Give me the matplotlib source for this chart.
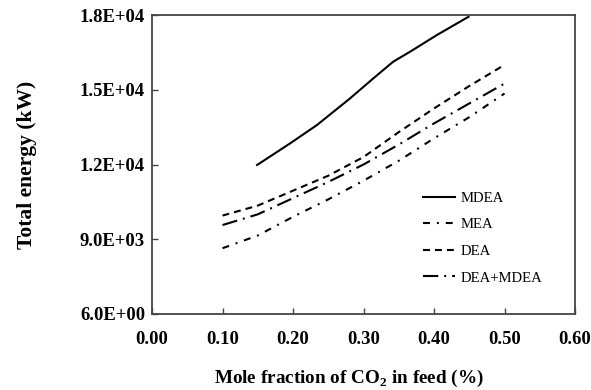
import matplotlib
matplotlib.use("Agg")
import matplotlib.pyplot as plt

plt.rcParams["font.family"] = ["Liberation Serif", "DejaVu Serif"]
plt.rcParams["mathtext.fontset"] = "custom"
plt.rcParams["mathtext.rm"] = "Liberation Serif"
plt.rcParams["mathtext.bf"] = "Liberation Serif:bold"
plt.rcParams["lines.scale_dashes"] = False

# mole fraction of CO2 in feed
x_mdea = [0.149, 0.196, 0.234, 0.281, 0.314, 0.342, 0.366, 0.404, 0.449]
y_mdea = [11980, 12850, 13585, 14656, 15459, 16125, 16526, 17196, 17931]

x_amine = [0.10, 0.15, 0.20, 0.25, 0.30, 0.35, 0.40, 0.45, 0.50]
y_mea = [8640, 9150, 9900, 10600, 11350, 12150, 13050, 13900, 14850]
y_dea = [9950, 10350, 10950, 11550, 12300, 13300, 14250, 15150, 16000]
y_blend = [9570, 10000, 10650, 11300, 12000, 12800, 13650, 14450, 15250]

x_ticks = [0.0, 0.1, 0.2, 0.3, 0.4, 0.5, 0.6]
x_ticklabels = ["0.00", "0.10", "0.20", "0.30", "0.40", "0.50", "0.60"]
y_ticks = [6000, 9000, 12000, 15000, 18000]
y_ticklabels = ["6.0E+00", "9.0E+03", "1.2E+04", "1.5E+04", "1.8E+04"]

fig = plt.figure(figsize=(5.91, 3.90), dpi=100)
ax = fig.add_axes([0.2572, 0.1949, 0.7158, 0.7666])

lw = 1.5
ax.plot(x_mdea, y_mdea, color="black", lw=lw, ls="-", label="MDEA")
ax.plot(x_amine, y_mea, color="black", lw=lw, ls=(0, (5, 5, 1.4, 5)), label="MEA")
ax.plot(x_amine, y_dea, color="black", lw=lw, ls=(0, (5, 3.6)), label="DEA")
ax.plot(x_amine, y_blend, color="black", lw=lw, ls=(0, (11, 4.3, 1.4, 4.3)),
        label="DEA+MDEA")

ax.set_xlim(0.0, 0.6)
ax.set_ylim(6000, 18000)
ax.set_xticks(x_ticks)
ax.set_xticklabels(x_ticklabels, fontsize=13.4, fontweight="bold")
ax.set_yticks(y_ticks)
ax.set_yticklabels(y_ticklabels, fontsize=13.4, fontweight="bold")
ax.tick_params(direction="in", length=4, width=1.0, color="#444444", pad=5)
ax.tick_params(axis="x", pad=12)

for s in ax.spines.values():
    s.set_linewidth(1.3)
    s.set_color("#444444")

ax.set_xlabel(r"Mole fraction of CO$_\mathbf{2}$ in feed (%)", fontsize=13.8,
              fontweight="bold")
ax.xaxis.set_label_coords(0.465, -0.181)
ax.set_ylabel("Total energy (kW)", fontsize=15.5, fontweight="bold")
ax.yaxis.set_label_coords(-0.272, 0.5)

ax.legend(loc="center left", bbox_to_anchor=(0.64, 0.254), frameon=False,
          fontsize=10.6, handlelength=2.2, handletextpad=0.35,
          labelspacing=0.9, borderpad=0, borderaxespad=0)

fig.savefig("out.png", dpi=100)
